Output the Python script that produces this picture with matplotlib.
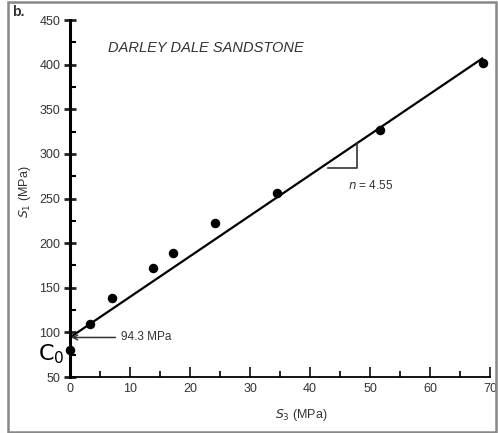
import matplotlib
matplotlib.use("Agg")
import matplotlib.pyplot as plt
from matplotlib.patches import Rectangle
import numpy as np

# Data
s3 = [0.0, 3.3, 7.0, 13.8, 17.2, 24.2, 34.5, 51.7, 68.8]
s1 = [80, 109, 139, 172, 189, 223, 256, 327, 402]
intercept = 94.3
slope = 4.55
fit_x = [0, 68.7]
xticks = [0, 10, 20, 30, 40, 50, 60, 70]
yticks = [50, 100, 150, 200, 250, 300, 350, 400, 450]

plt.rcParams['font.family'] = ['Liberation Sans', 'DejaVu Sans']

fig = plt.figure(figsize=(4.98, 4.33), dpi=100)
ax = fig.add_axes([0.1406, 0.1293, 0.8434, 0.8245])

fx = np.array(fit_x)
ax.plot(fx, intercept + slope * fx, color='black', lw=1.6, zorder=2)
ax.scatter(s3, s1, s=34, color='black', zorder=3, clip_on=False)

ax.set_xlim(0, 70)
ax.set_ylim(50, 450)
ax.set_xticks(xticks)
ax.set_yticks(yticks)
ax.set_xticks(np.arange(5, 70, 10), minor=True)
ax.set_yticks(np.arange(75, 450, 50), minor=True)

for s in ['top', 'right']:
    ax.spines[s].set_visible(False)
ax.spines['left'].set_linewidth(2.2)
ax.spines['bottom'].set_linewidth(1.3)

ax.tick_params(axis='y', which='major', direction='inout', length=8, width=2,
               labelsize=9, colors='#222222', pad=3)
ax.tick_params(axis='y', which='minor', direction='in', length=4, width=1.5)
ax.tick_params(axis='x', which='major', direction='in', length=7, width=1.3,
               labelsize=9, colors='#222222', pad=4)
ax.tick_params(axis='x', which='minor', direction='in', length=4, width=1.2)
for lab in ax.get_xticklabels() + ax.get_yticklabels():
    lab.set_color('#333333')

ax.set_xlabel(r'$S_3$ (MPa)', fontsize=9, color='#333333')
ax.xaxis.set_label_coords(0.55, -0.085)
ax.set_ylabel(r'$S_1$ (MPa)', fontsize=9, color='#333333')
ax.yaxis.set_label_coords(-0.088, 0.52)

ax.text(6.3, 419, 'DARLEY DALE SANDSTONE', fontsize=10.5, fontstyle='italic',
        fontweight='medium', color='#333333', va='center', ha='left')

# slope triangle
ax.plot([43.0, 47.8, 47.8], [284, 284, intercept + slope * 47.8],
        color='#333333', lw=1.2)
ax.text(46.3, 265, r'$n$ = 4.55', fontsize=8.5, color='#333333',
        va='center', ha='left')

# intercept arrow
ax.annotate('94.3 MPa', xy=(0.2, intercept), xytext=(8.5, intercept),
            fontsize=8.5, color='#333333', va='center', ha='left',
            arrowprops=dict(arrowstyle='->', color='#333333', lw=1.1,
                            shrinkA=2, shrinkB=0))

fig.text(0.076, 0.181, r'C$_0$', fontsize=16, color='black',
         family=['DejaVu Sans'], va='center', ha='left')

fig.text(0.024, 0.972, 'b.', fontsize=10, color='#333333', fontweight='bold',
         va='center', ha='left')

fig.patches.append(Rectangle((8 / 498, 1 / 433), 488 / 498, 430 / 433,
                             transform=fig.transFigure, fill=False,
                             edgecolor='#888888', lw=1.8))

fig.savefig('out.png', dpi=100)
